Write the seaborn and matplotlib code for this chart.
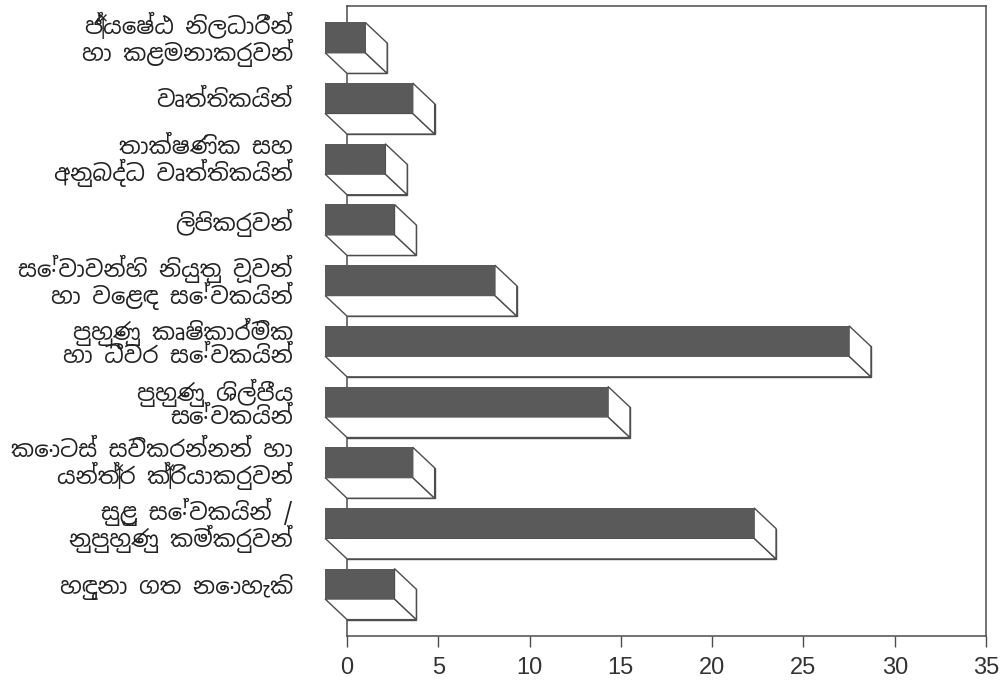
import numpy as np
import pandas as pd
import matplotlib
matplotlib.use("Agg")
import matplotlib.pyplot as plt
import matplotlib.transforms as mtransforms
from matplotlib import font_manager
from matplotlib.patches import Polygon
import seaborn as sns

# occupation groups (top to bottom) and their share in percent
occupations = [
    "ජ්‍යෙෂ්ඨ නිලධාරීන්\nහා කළමනාකරුවන්",
    "වෘත්තිකයින්",
    "තාක්ෂණික සහ\nඅනුබද්ධ වෘත්තිකයින්",
    "ලිපිකරුවන්",
    "සේවාවන්හි නියුතු වූවන්\nහා වෙළඳ සේවකයින්",
    "පුහුණු කෘෂිකාර්මික\nහා ධීවර සේවකයින්",
    "පුහුණු ශිල්පීය\nසේවකයින්",
    "කොටස් සවිකරන්නන් හා\nයන්ත්‍ර ක්‍රියාකරුවන්",
    "සුළු සේවකයින් /\nනුපුහුණු කම්කරුවන්",
    "හඳුනා ගත නොහැකි",
]
percent = [2.2, 4.8, 3.3, 3.8, 9.3, 28.7, 15.5, 4.8, 23.5, 3.8]
x_ticks = [0, 5, 10, 15, 20, 25, 30, 35]

sns.set_theme(style="white")
sinhala = sorted({f.name for f in font_manager.fontManager.ttflist if "Sinhala" in f.name})
plt.rcParams["font.family"] = sinhala[:1] + ["DejaVu Sans"]

df = pd.DataFrame({"occupation": occupations, "percent": percent})

LINE = "#4d4d4d"
FACE = "#5a5a5a"
DX, DY = 1.2, 0.34   # depth of the 3d boxes, in data units
BAR_H = 0.5

fig = plt.figure(figsize=(10.06, 6.93), dpi=100)
ax = fig.add_axes([347 / 1006, 1 - 636 / 693, (986 - 347) / 1006, (636 - 6) / 693])

# back face of each box
sns.barplot(data=df, x="percent", y="occupation", orient="h", color="white",
            saturation=1, width=BAR_H, edgecolor=LINE, linewidth=1, ax=ax, zorder=2)
back = list(ax.patches)

# bottom and side faces
for p in back:
    v = p.get_width()
    yt = p.get_y()
    yb = yt + p.get_height()
    bottom = [(-DX, yb - DY), (v - DX, yb - DY), (v, yb), (0, yb)]
    side = [(v - DX, yt - DY), (v, yt), (v, yb), (v - DX, yb - DY)]
    for pts in (bottom, side):
        ax.add_patch(Polygon(pts, closed=True, facecolor="white", edgecolor=LINE,
                             linewidth=1, zorder=3, clip_on=False))

# front face, shifted to the front-left
m = len(ax.patches)
sns.barplot(data=df, x="percent", y="occupation", orient="h", color=FACE,
            saturation=1, width=BAR_H, linewidth=0, ax=ax, zorder=4)
shift = mtransforms.Affine2D().translate(-DX, -DY) + ax.transData
for p in ax.patches[m:]:
    p.set_transform(shift)
    p.set_clip_on(False)

ax.set_xlim(0, 35)
ax.set_ylim(9.52, -0.86)
ax.set_xlabel("")
ax.set_ylabel("")

ax.set_yticks(np.arange(len(occupations)) - DY, occupations)
ax.tick_params(axis="y", length=0, pad=39, labelsize=16.5)
for t in ax.get_yticklabels():
    t.set_linespacing(0.95)
    t.set_fontweight("bold")
    t.set_color("#222")

ax.set_xticks(x_ticks)
ax.set_xticklabels([str(t) for t in x_ticks], family="Liberation Sans", fontsize=17, color="#333")
ax.tick_params(axis="x", bottom=True, direction="out", length=8, width=1, color=LINE, pad=7)

for s in ax.spines.values():
    s.set_visible(True)
    s.set_color(LINE)
    s.set_linewidth(1.1)

fig.savefig("out.png", dpi=100, facecolor="white")
